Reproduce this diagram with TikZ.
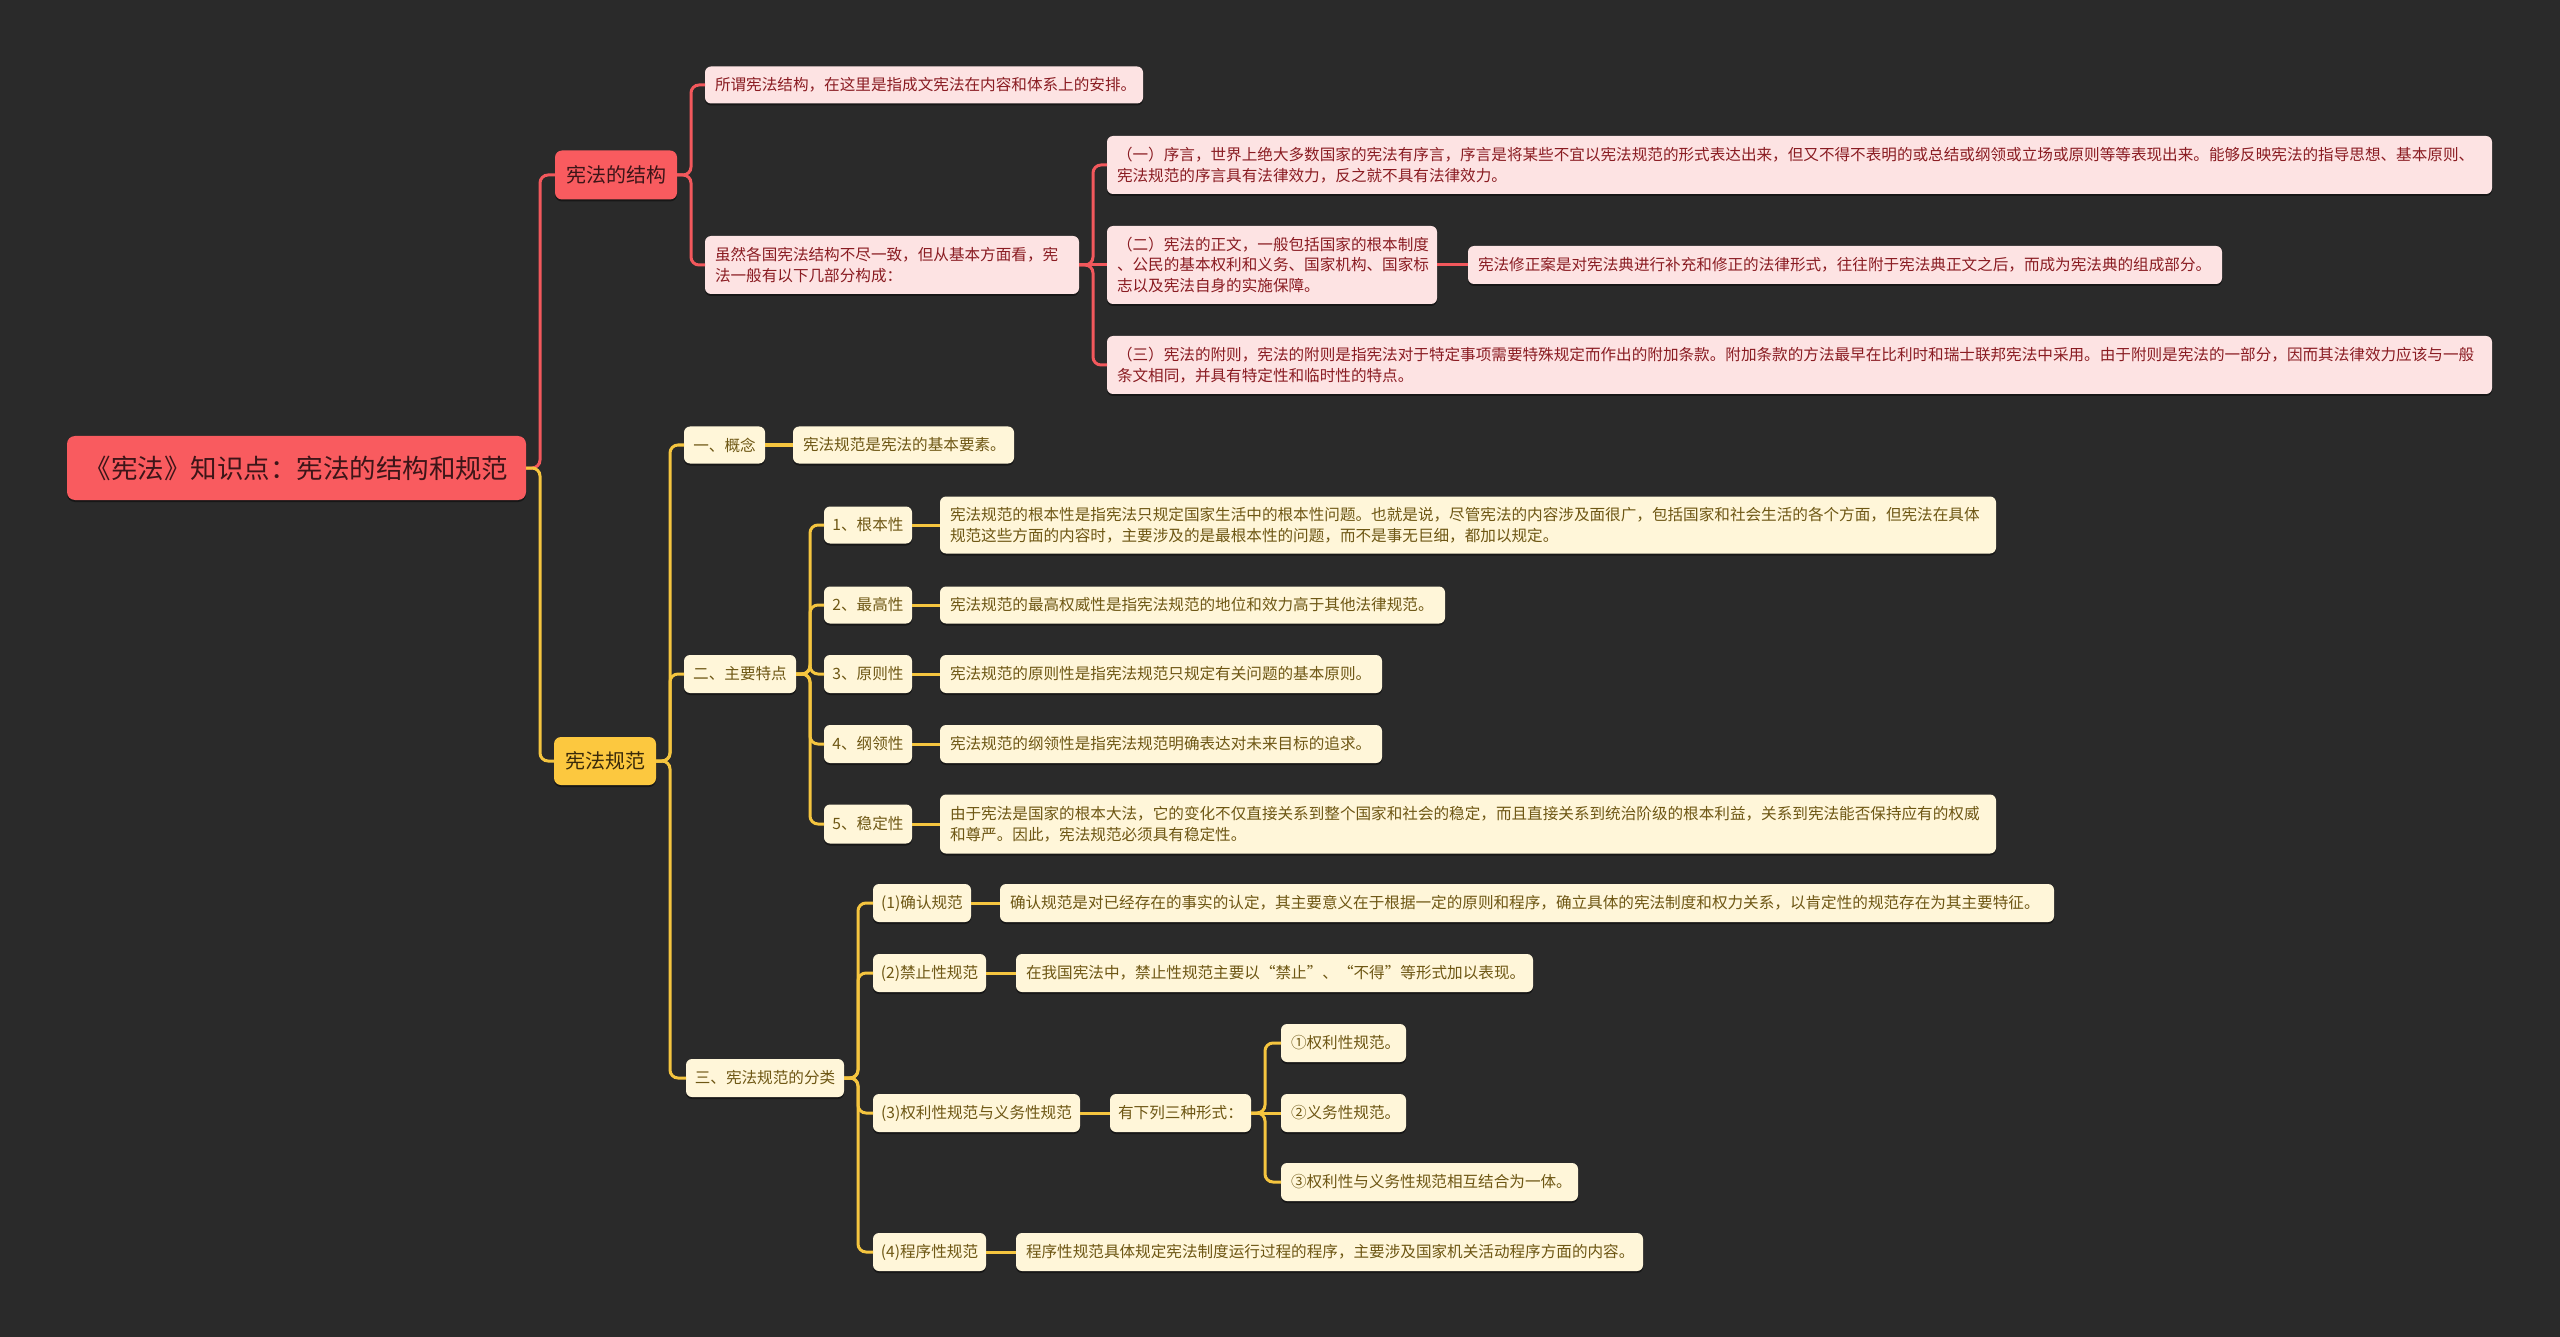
\documentclass[tikz,border=0pt]{standalone}
\usepackage{fontspec}
\setmainfont{Noto Sans CJK SC}
\usetikzlibrary{shadows}
\definecolor{bg}{HTML}{2A2A2A}
\definecolor{cRed}{HTML}{F95B5F}
\definecolor{cRedText}{HTML}{3D1518}
\definecolor{cRedLine}{HTML}{F2585C}
\definecolor{cPink}{HTML}{FDE3E3}
\definecolor{cPinkText}{HTML}{8A1C22}
\definecolor{cYel}{HTML}{FCC83F}
\definecolor{cYelText}{HTML}{3A2A0A}
\definecolor{cYelLine}{HTML}{F5C53F}
\definecolor{cCream}{HTML}{FFF6D9}
\definecolor{cCreamText}{HTML}{6E5714}
\newcommand\fsmall{\fontsize{15.6}{20.5}\selectfont}
\newcommand\fmid{\fontsize{20}{24}\selectfont}
\newcommand\ftitle{\fontsize{26.5}{30}\selectfont}
\begin{document}
\begin{tikzpicture}[x=1pt,y=-1pt,
  base/.style={rounded corners=6pt, inner sep=0pt, outer sep=0pt, anchor=west,
    drop shadow={shadow xshift=0pt, shadow yshift=-2pt, fill=black, opacity=0.45}},
  rootbox/.style={base, fill=cRed, text=cRedText, font=\ftitle, rounded corners=8pt, minimum height=64pt},
  redmain/.style={base, fill=cRed, text=cRedText, font=\fmid, rounded corners=7pt, minimum height=49pt},
  yelmain/.style={base, fill=cYel, text=cYelText, font=\fmid, rounded corners=7pt, minimum height=48pt},
  pinkbox/.style={base, fill=cPink, text=cPinkText, font=\fsmall, inner xsep=10pt, align=left, minimum height=37pt},
  creambox/.style={base, fill=cCream, text=cCreamText, font=\fsmall, inner xsep=10pt, align=left, minimum height=37pt},
  creamlab/.style={base, fill=cCream, text=cCreamText, font=\fsmall, minimum height=37pt},
  rline/.style={draw=cRedLine, line width=3pt, rounded corners=8pt},
  yline/.style={draw=cYelLine, line width=3pt, rounded corners=8pt}
]
\fill[bg] (0,0) rectangle (2560,1337);
\useasboundingbox (0,0) rectangle (2560,1337);

% root
\node[rootbox, minimum width=459pt] (root) at (67,468) {《宪法》知识点：宪法的结构和规范};

% structure branch
\node[redmain, minimum width=122pt] (s1) at (555,175) {宪法的结构};
\node[pinkbox, text width=418pt] (s1a) at (705,85) {所谓宪法结构，在这里是指成文宪法在内容和体系上的安排。};
\node[pinkbox, text width=354pt, minimum height=58pt] (s1b) at (705,265) {虽然各国宪法结构不尽一致，但从基本方面看，宪\\法一般有以下几部分构成：};
\node[pinkbox, text width=1365pt, minimum height=58pt] (s1b1) at (1107,165) {（一）序言，世界上绝大多数国家的宪法有序言，序言是将某些不宜以宪法规范的形式表达出来，但又不得不表明的或总结或纲领或立场或原则等等表现出来。能够反映宪法的指导思想、基本原则、\\宪法规范的序言具有法律效力，反之就不具有法律效力。};
\node[pinkbox, text width=310pt, minimum height=78pt] (s1b2) at (1107,265) {（二）宪法的正文，一般包括国家的根本制度\\、公民的基本权利和义务、国家机构、国家标\\志以及宪法自身的实施保障。};
\node[pinkbox, text width=734pt, minimum height=38pt] (s1b2a) at (1468,265) {宪法修正案是对宪法典进行补充和修正的法律形式，往往附于宪法典正文之后，而成为宪法典的组成部分。};
\node[pinkbox, text width=1365pt, minimum height=58pt] (s1b3) at (1107,365) {（三）宪法的附则，宪法的附则是指宪法对于特定事项需要特殊规定而作出的附加条款。附加条款的方法最早在比利时和瑞士联邦宪法中采用。由于附则是宪法的一部分，因而其法律效力应该与一般\\条文相同，并具有特定性和临时性的特点。};

% norms branch
\node[yelmain, minimum width=102pt] (s2) at (554,761) {宪法规范};
\node[creamlab, minimum width=81pt] (s2a) at (684,445) {一、概念};
\node[creambox, text width=201pt] (s2a1) at (793,445) {宪法规范是宪法的基本要素。};
\node[creamlab, minimum width=112pt, minimum height=38pt] (s2b) at (684,674) {二、主要特点};

\node[creamlab, minimum width=88pt] (s2b1) at (824,525) {1、根本性};
\node[creambox, text width=1036pt, minimum height=57pt] (s2b1t) at (940,525) {宪法规范的根本性是指宪法只规定国家生活中的根本性问题。也就是说，尽管宪法的内容涉及面很广，包括国家和社会生活的各个方面，但宪法在具体\\规范这些方面的内容时，主要涉及的是最根本性的问题，而不是事无巨细，都加以规定。};
\node[creamlab, minimum width=88pt] (s2b2) at (824,605) {2、最高性};
\node[creambox, text width=485pt] (s2b2t) at (940,605) {宪法规范的最高权威性是指宪法规范的地位和效力高于其他法律规范。};
\node[creamlab, minimum width=88pt, minimum height=38pt] (s2b3) at (824,674) {3、原则性};
\node[creambox, text width=422pt, minimum height=38pt] (s2b3t) at (940,674) {宪法规范的原则性是指宪法规范只规定有关问题的基本原则。};
\node[creamlab, minimum width=88pt, minimum height=38pt] (s2b4) at (824,744) {4、纲领性};
\node[creambox, text width=422pt, minimum height=38pt] (s2b4t) at (940,744) {宪法规范的纲领性是指宪法规范明确表达对未来目标的追求。};
\node[creamlab, minimum width=88pt, minimum height=39pt] (s2b5) at (824,824) {5、稳定性};
\node[creambox, text width=1036pt, minimum height=59pt] (s2b5t) at (940,824) {由于宪法是国家的根本大法，它的变化不仅直接关系到整个国家和社会的稳定，而且直接关系到统治阶级的根本利益，关系到宪法能否保持应有的权威\\和尊严。因此，宪法规范必须具有稳定性。};

\node[creamlab, minimum width=158pt, minimum height=38pt] (s2c) at (686,1078) {三、宪法规范的分类};
\node[creamlab, minimum width=98pt, minimum height=38pt] (s2c1) at (873,903) {(1)确认规范};
\node[creambox, text width=1034pt, minimum height=38pt] (s2c1t) at (1000,903) {确认规范是对已经存在的事实的认定，其主要意义在于根据一定的原则和程序，确立具体的宪法制度和权力关系，以肯定性的规范存在为其主要特征。};
\node[creamlab, minimum width=113pt, minimum height=38pt] (s2c2) at (873,973) {(2)禁止性规范};
\node[creambox, text width=497pt, minimum height=38pt] (s2c2t) at (1016,973) {在我国宪法中，禁止性规范主要以“禁止”、“不得”等形式加以表现。};
\node[creamlab, minimum width=207pt, minimum height=38pt] (s2c3) at (873,1113) {(3)权利性规范与义务性规范};
\node[creamlab, minimum width=141pt, minimum height=38pt] (s2c3m) at (1110,1113) {有下列三种形式：};
\node[creambox, text width=105pt, minimum height=38pt] (s2c3a) at (1281,1043) {①权利性规范。};
\node[creambox, text width=105pt, minimum height=38pt] (s2c3b) at (1281,1113) {②义务性规范。};
\node[creambox, text width=277pt, minimum height=38pt] (s2c3c) at (1281,1182) {③权利性与义务性规范相互结合为一体。};
\node[creamlab, minimum width=113pt, minimum height=38pt] (s2c4) at (873,1252) {(4)程序性规范};
\node[creambox, text width=607pt, minimum height=38pt] (s2c4t) at (1016,1252) {程序性规范具体规定宪法制度运行过程的程序，主要涉及国家机关活动程序方面的内容。};

% connectors: structure
\draw[rline] (root.east) -- ++(14,0) |- (s1.west);
\draw[yline] (root.east) -- ++(14,0) |- (s2.west);
\draw[rline] (s1.east) -- ++(14,0) |- (s1a.west);
\draw[rline] (s1.east) -- ++(14,0) |- (s1b.west);
\draw[rline] (s1b.east) -- ++(14,0) |- (s1b1.west);
\draw[rline] (s1b.east) -- (s1b2.west);
\draw[rline] (s1b.east) -- ++(14,0) |- (s1b3.west);
\draw[rline] (s1b2.east) -- (s1b2a.west);

% connectors: norms
\draw[yline] (s2.east) -- ++(14,0) |- (s2a.west);
\draw[yline] (s2.east) -- ++(14,0) |- (s2b.west);
\draw[yline] (s2.east) -- ++(14,0) |- (s2c.west);
\draw[yline] (s2a.east) -- (s2a1.west);
\foreach \i in {1,...,5}{
  \draw[yline] (s2b.east) -- ++(14,0) |- (s2b\i.west);
  \draw[yline] (s2b\i.east) -- (s2b\i t.west);
}
\foreach \i in {1,...,4}{
  \draw[yline] (s2c.east) -- ++(14,0) |- (s2c\i.west);
}
\draw[yline] (s2c1.east) -- (s2c1t.west);
\draw[yline] (s2c2.east) -- (s2c2t.west);
\draw[yline] (s2c4.east) -- (s2c4t.west);
\draw[yline] (s2c3.east) -- (s2c3m.west);
\draw[yline] (s2c3m.east) -- ++(14,0) |- (s2c3a.west);
\draw[yline] (s2c3m.east) -- (s2c3b.west);
\draw[yline] (s2c3m.east) -- ++(14,0) |- (s2c3c.west);
\end{tikzpicture}
\end{document}
